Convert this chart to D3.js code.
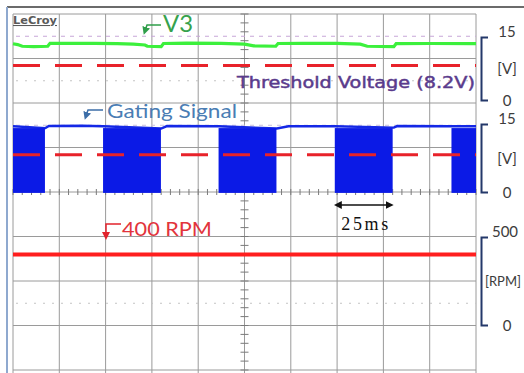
<!DOCTYPE html>
<html>
<head>
<meta charset="utf-8">
<script src="https://cdn.jsdelivr.net/npm/d3@7"></script>
<style>
  html, body { margin: 0; padding: 0; background: #fff; }
  svg { display: block; }
</style>
</head>
<body>
<svg id="scope" width="524" height="373"></svg>
<script>
// ---- capture data (time in ms, 20 ms per division, 10 divisions) ----
const timeDomain = [0, 200];

// V3 supply voltage trace [ms, V]
const v3Trace = [
  [0, 13.4], [2, 13.2], [4, 12.8], [9, 12.7], [15, 12.8], [16, 13.5], [25, 13.5],
  [35, 13.5], [45, 13.4], [52, 13.3], [57, 13.1], [58, 12.8], [64, 12.7],
  [65, 13.45], [75, 13.55], [90, 13.5], [100, 13.3], [104, 12.9], [113.5, 12.8],
  [114.5, 13.45], [125, 13.5], [140, 13.5], [150, 13.3], [153, 12.8], [164.5, 12.7],
  [165.5, 13.4], [180, 13.45], [200, 13.4]
];

// gate threshold voltage
const thresholdV = 8.2;

// gating signal: idle high level [ms, V] and switching bursts (start ms)
const gatingHigh = [
  [0, 14.5], [14, 14.1], [15.5, 14.55], [30, 14.6], [38.9, 14.5],
  [64, 14.0], [66.5, 14.55], [88.8, 14.5],
  [114, 14.0], [119, 14.5], [139, 14.5],
  [164.5, 14.2], [166, 14.55], [189.4, 14.5], [200, 14.5]
];
const burstStarts = [-11.2, 38.9, 88.8, 139.0, 189.4];
const burstWidthMs = 25;
const burstLevels = [-0.2, 14.1];

// motor speed trace [ms, rpm]
const rpmTrace = [[0, 400], [50, 400], [100, 400], [150, 400], [200, 400]];

// right-hand scale labels
const voltTicks = [0, 7.5, 15];
const voltLabels = ["0", "[V]", "15"];
const rpmTicks = [0, 250, 500];
const rpmLabels = ["0", "[RPM]", "500"];

// ---- layout ----
const svg = d3.select("#scope");
const plotL = 13, plotR = 476, plotT = 14, plotB = 370;

const x = d3.scaleLinear().domain(timeDomain).range([plotL, plotR]);
const yDiv = d3.scaleLinear().domain([0, 8]).range([plotT, plotB]);
const yV1 = d3.scaleLinear().domain([0, 15]).range([100, 37]);
const yV2 = d3.scaleLinear().domain([0, 15]).range([192, 124]);
const yRpm = d3.scaleLinear().domain([0, 500]).range([325, 237]);

svg.append("rect").attr("width", 524).attr("height", 373).attr("fill", "#fff");

// outer frame
svg.append("line").attr("x1", 7).attr("x2", 524).attr("y1", 7).attr("y2", 7)
  .attr("stroke", "#3a3a3a").attr("stroke-width", 1.5);
svg.append("line").attr("x1", 7).attr("x2", 7).attr("y1", 7).attr("y2", 373)
  .attr("stroke", "#8fa9cf").attr("stroke-width", 2);

// grid
const grid = svg.append("g").attr("stroke", "#9a9a9a").attr("stroke-width", 1);
grid.selectAll("line.v").data(d3.range(0, 201, 20)).join("line")
  .attr("x1", d => x(d)).attr("x2", d => x(d))
  .attr("y1", plotT).attr("y2", 373);
grid.selectAll("line.h").data(d3.range(0, 9)).join("line")
  .attr("x1", plotL).attr("x2", plotR)
  .attr("y1", d => yDiv(d)).attr("y2", d => yDiv(d));

// faint channel reference lines
const refLines = [
  { d: 0.5, c: "#c7a6d8", dash: "4,5" },
  { d: 1.5, c: "#c4c4c4", dash: "2,7" },
  { d: 2.5, c: "#c9c0dc", dash: "4,5" },
  { d: 6.5, c: "#c4c4c4", dash: "2,7" }
];
svg.append("g").selectAll("line").data(refLines).join("line")
  .attr("x1", plotL + 3).attr("x2", plotR)
  .attr("y1", d => yDiv(d.d)).attr("y2", d => yDiv(d.d))
  .attr("stroke", d => d.c).attr("stroke-width", 1)
  .attr("stroke-dasharray", d => d.dash);

// centre axes with minor ticks
const cx = x(100), cy = yDiv(4);
const axes = svg.append("g").attr("stroke", "#7a7a7a").attr("stroke-width", 1);
axes.selectAll("line.ty").data(d3.range(0, 8.01, 0.2)).join("line")
  .attr("x1", cx - 4).attr("x2", cx + 4)
  .attr("y1", d => yDiv(d)).attr("y2", d => yDiv(d));
axes.selectAll("line.tx").data(d3.range(0, 200.1, 4)).join("line")
  .attr("x1", d => x(d)).attr("x2", d => x(d))
  .attr("y1", cy - 3).attr("y2", cy + 3);

// gating signal
const lineV2 = d3.line().x(d => x(d[0])).y(d => yV2(d[1]));
svg.append("path").datum(gatingHigh).attr("d", lineV2)
  .attr("fill", "none").attr("stroke", "#1428e6").attr("stroke-width", 2.4);
svg.append("g").selectAll("rect").data(burstStarts).join("rect")
  .attr("x", d => x(Math.max(timeDomain[0], d)))
  .attr("width", d => x(Math.min(timeDomain[1], d + burstWidthMs)) - x(Math.max(timeDomain[0], d)))
  .attr("y", yV2(burstLevels[1]))
  .attr("height", yV2(burstLevels[0]) - yV2(burstLevels[1]))
  .attr("fill", "#0b1ae6");

// threshold lines
const dashRed = "#e8222a";
[yV1, yV2].forEach(s => {
  svg.append("line").attr("x1", plotL).attr("x2", plotR)
    .attr("y1", s(thresholdV)).attr("y2", s(thresholdV))
    .attr("stroke", dashRed).attr("stroke-width", 3)
    .attr("stroke-dasharray", "27,15");
});

// V3 trace
svg.append("path").datum(v3Trace)
  .attr("d", d3.line().x(d => x(d[0])).y(d => yV1(d[1])))
  .attr("fill", "none").attr("stroke", "#3cf03c").attr("stroke-width", 3.2);

// RPM trace
svg.append("path").datum(rpmTrace)
  .attr("d", d3.line().x(d => x(d[0])).y(d => yRpm(d[1])))
  .attr("fill", "none").attr("stroke", "#ff1f1f").attr("stroke-width", 4);

// right-hand bracket scales
function bracket(scale, ticks, labels, labelX) {
  const g = svg.append("g").attr("transform", "translate(481,0)")
    .call(d3.axisRight(scale).tickValues(ticks)
      .tickSizeInner(0).tickSizeOuter(7)
      .tickFormat((d, i) => labels[i]));
  g.select(".domain").attr("stroke", "#24386a").attr("stroke-width", 2);
  g.selectAll(".tick line").remove();
  g.selectAll(".tick text")
    .attr("x", (d, i) => labelX[i]).attr("dy", (d, i) => i === 2 ? "-0.05em" : "0.35em")
    .attr("text-anchor", "middle")
    .attr("font-family", "Lato, 'Open Sans', sans-serif")
    .attr("font-size", 15).attr("fill", "#3c3c3c");
  return g;
}
bracket(yV1, voltTicks, voltLabels, [26, 26, 26]);
bracket(yV2, voltTicks, voltLabels, [26, 26, 26]);
bracket(yRpm, rpmTicks, rpmLabels, [26, 22, 24]).selectAll(".tick text")
  .attr("font-size", (d, i) => i === 1 ? 13 : 15);

// arrow markers
const defs = svg.append("defs");
function marker(id, color) {
  defs.append("marker").attr("id", id).attr("viewBox", "0 0 10 10")
    .attr("refX", 5).attr("refY", 5).attr("markerWidth", 8).attr("markerHeight", 8)
    .attr("markerUnits", "userSpaceOnUse").attr("orient", "auto-start-reverse")
    .append("path").attr("d", "M0,0 L10,5 L0,10 Z").attr("fill", color);
}
marker("headGreen", "#2f9e4a");
marker("headBlue", "#3c6ea8");
marker("headRed", "#e2232c");
marker("headBlack", "#111");

// trace labels with leader arrows
const font = "Lato, 'Open Sans', sans-serif";
svg.append("path").attr("d", "M161,25 H147 L145,31")
  .attr("fill", "none").attr("stroke", "#2f9e4a").attr("stroke-width", 1.5)
  .attr("marker-end", "url(#headGreen)");
svg.append("text").attr("x", 163).attr("y", 32).text("V3")
  .attr("font-family", font).attr("font-size", 23).attr("fill", "#36a24c")
  .attr("textLength", 30).attr("lengthAdjust", "spacingAndGlyphs");

svg.append("path").attr("d", "M103,110 H88 L86,116")
  .attr("fill", "none").attr("stroke", "#3c6ea8").attr("stroke-width", 1.5)
  .attr("marker-end", "url(#headBlue)");
svg.append("text").attr("x", 107).attr("y", 118).text("Gating Signal")
  .attr("font-family", font).attr("font-size", 19).attr("fill", "#4a7db4")
  .attr("textLength", 130).attr("lengthAdjust", "spacingAndGlyphs");

svg.append("path").attr("d", "M121,224 H106 V236")
  .attr("fill", "none").attr("stroke", "#e2232c").attr("stroke-width", 1.5)
  .attr("marker-end", "url(#headRed)");
svg.append("text").attr("x", 122).attr("y", 236).text("400 RPM")
  .attr("font-family", font).attr("font-size", 19).attr("fill", "#e2343c")
  .attr("textLength", 90).attr("lengthAdjust", "spacingAndGlyphs");

svg.append("text").attr("x", 237).attr("y", 88).text("Threshold Voltage (8.2V)")
  .attr("font-family", "'DejaVu Sans', Verdana, sans-serif").attr("font-size", 15)
  .attr("fill", "#5a3b8c").attr("stroke", "#5a3b8c").attr("stroke-width", 0.45)
  .attr("textLength", 238).attr("lengthAdjust", "spacingAndGlyphs");

// burst width annotation
const ann = burstStarts[3];
svg.append("line").attr("x1", x(ann) + 3).attr("x2", x(ann + burstWidthMs) - 3)
  .attr("y1", 205).attr("y2", 205)
  .attr("stroke", "#111").attr("stroke-width", 1.3)
  .attr("marker-start", "url(#headBlack)").attr("marker-end", "url(#headBlack)");
svg.append("text").attr("x", (x(ann) + x(ann + burstWidthMs)) / 2 + 1).attr("y", 230)
  .attr("text-anchor", "middle").text("25ms")
  .attr("font-family", "'Liberation Serif', 'DejaVu Serif', serif").attr("font-size", 18)
  .attr("fill", "#111").attr("textLength", 47).attr("lengthAdjust", "spacing");

// instrument badge
svg.append("text").attr("x", 13).attr("y", 24).text("LeCroy")
  .attr("font-family", "'DejaVu Sans', sans-serif").attr("font-size", 10.5)
  .attr("font-weight", "bold").attr("fill", "#5a5a5a")
  .attr("text-decoration", "underline")
  .attr("textLength", 44).attr("lengthAdjust", "spacingAndGlyphs");
</script>
</body>
</html>
